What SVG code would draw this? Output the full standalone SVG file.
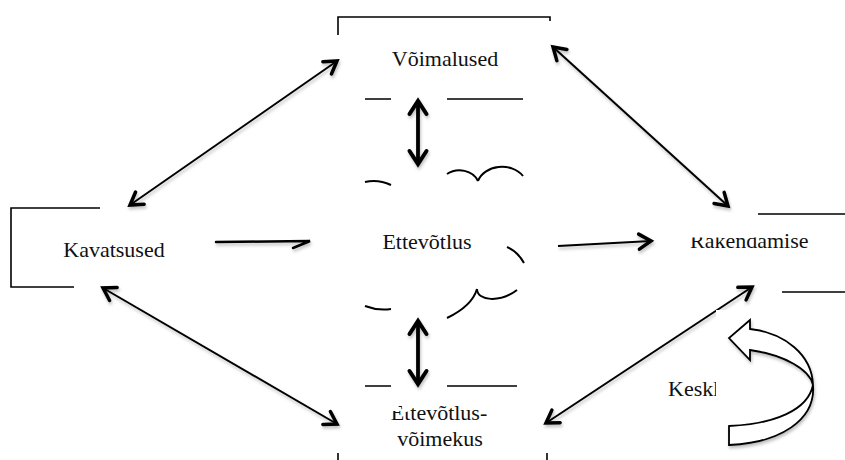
<svg xmlns="http://www.w3.org/2000/svg" width="845" height="460" viewBox="0 0 845 460">
<style>
.t{font-family:"Liberation Serif","Times New Roman",serif;font-size:22px;fill:#111}
.b{fill:none;stroke:#000;stroke-width:1.6}
.c{fill:none;stroke:#000;stroke-width:2}
.d{fill:none;stroke:#000;stroke-width:2}
.v{fill:none;stroke:#000;stroke-width:3.8}
.w{fill:#fff;stroke:none}
</style>
<defs>
<filter id="sh" x="-20%" y="-20%" width="140%" height="140%">
<feDropShadow dx="1" dy="2.5" stdDeviation="1.5" flood-color="#000" flood-opacity="0.25"/>
</filter>
<marker id="ah" viewBox="-16 -12 22 24" refX="0" refY="0" markerWidth="22" markerHeight="24" markerUnits="userSpaceOnUse" orient="auto-start-reverse">
<path d="M-12,-7.5 L0,0 L-12,7.5" fill="none" stroke="#000" stroke-width="3.5" stroke-linecap="round"/>
</marker>
<marker id="ahb" viewBox="-18 -14 24 28" refX="0" refY="0" markerWidth="24" markerHeight="28" markerUnits="userSpaceOnUse" orient="auto-start-reverse">
<path d="M-13,-8.5 L0,0 L-13,8.5" fill="none" stroke="#000" stroke-width="4" stroke-linecap="round"/>
</marker>
</defs>

<g id="voimalused">
<path class="b" d="M338,35 V17 H550 V21"/>
<path class="b" d="M365,99 H391 M447,99 H523"/>
<text class="t" x="445" y="66" text-anchor="middle">Võimalused</text>
</g>

<g id="kavatsused">
<path class="b" d="M100,208 H11 V287 H74"/>
<text class="t" x="114" y="257" text-anchor="middle">Kavatsused</text>
</g>

<g id="ettevotlus">
<path class="c" d="M365,182 Q378,179 391,185"/>
<path class="c" d="M447,174 A20,17 0 0 1 478,181"/>
<path class="c" d="M478,181 A25,20 0 0 1 523,176"/>
<path class="c" d="M507,247 Q518,252 524,263"/>
<path class="c" d="M447,318 Q472,306 477,289"/>
<path class="c" d="M477,289 C477,301 500,303 517,290"/>
<path class="c" d="M365,306 Q378,311 391,309"/>
<text class="t" x="427" y="249" text-anchor="middle">Ettevõtlus</text>
</g>

<g id="rakendamise">
<path class="b" d="M758,214 H845 M782,292 H845"/>
<text class="t" x="690" y="248">Rakendamise</text>
<rect class="w" x="682" y="216" width="75.5" height="21.5"/>
</g>

<g id="ettevotlus-voimekus">
<path class="b" d="M365,386 H391 M447,386 H517"/>
<text class="t" x="439" y="420" text-anchor="middle">Ettevõtlus-</text>
<text class="t" x="440" y="446" text-anchor="middle">võimekus</text>
<polygon class="w" points="386,398 414,398 410,411 406,412 403,411 400,398 398,411 386,411"/>
<path class="b" d="M338,453 V460 M547,453 V460"/>
</g>

<g id="connectors" filter="url(#sh)">
<line class="d" x1="130" y1="205" x2="337" y2="61" marker-start="url(#ah)" marker-end="url(#ah)"/>
<line class="d" x1="553" y1="47" x2="728" y2="206" marker-start="url(#ah)" marker-end="url(#ah)"/>
<line class="d" x1="103" y1="288" x2="337" y2="424" marker-start="url(#ah)" marker-end="url(#ah)"/>
<line class="d" x1="752" y1="287" x2="546" y2="423" marker-start="url(#ah)" marker-end="url(#ah)"/>
<line class="v" x1="418" y1="101" x2="418" y2="164" marker-start="url(#ahb)" marker-end="url(#ahb)"/>
<line class="v" x1="418" y1="321" x2="418" y2="384" marker-start="url(#ahb)" marker-end="url(#ahb)"/>
<path d="M216,242 L310,241 L293,248" fill="none" stroke="#000" stroke-width="2.5" stroke-linecap="round" stroke-linejoin="miter"/>
<line class="d" x1="558" y1="246" x2="651" y2="241" marker-end="url(#ah)"/>
</g>

<g id="keskkond">
<text class="t" x="668" y="396">Keskk</text>
<rect class="w" x="716" y="310" width="129" height="150"/>
</g>

<g id="curved-arrow" filter="url(#sh)">
<path d="M750,320 L729,338 L750,360 L750,350 C785,355 810,370 813,385 C808,410 775,424 729,426 L729,445 C780,443 816,420 813,385 C812,355 785,333 750,329 Z" fill="#fff" stroke="#000" stroke-width="1.8" stroke-linejoin="miter"/>
</g>
</svg>
